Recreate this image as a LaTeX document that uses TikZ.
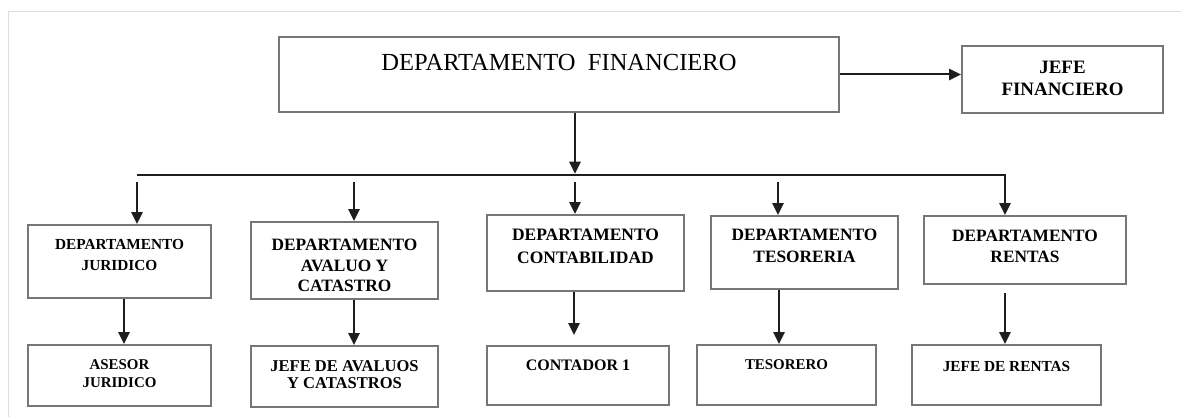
\documentclass[tikz,border=0pt]{standalone}
\usepackage{fontspec}
\setmainfont{Liberation Serif}
\usetikzlibrary{positioning,arrows.meta}

\definecolor{boxgray}{HTML}{767676}
\definecolor{linedark}{HTML}{1E1E1E}
\definecolor{framegray}{HTML}{DDDDDD}

\newcommand{\boxfont}[2]{\fontsize{#1}{#2}\selectfont}

\tikzset{
  box/.style={draw=boxgray, line width=1.5pt, inner sep=0pt},
  lbl/.style={align=center, inner sep=0pt},
  conn/.style={draw=linedark, line width=1.5pt, -{Triangle[length=9pt,width=8.5pt]}},
}

\begin{document}
\begin{tikzpicture}[x=0.75pt,y=-0.75pt]
    \useasboundingbox (0,0) rectangle (1181,417);
    % Page frame
    \draw[framegray, line width=0.75pt] (8,417) -- (8,12) -- (1181,12);

    % Top level
    \node[box, minimum width=420pt, minimum height=56.25pt] (fin) at (559,74.5) {};
    \node[lbl, font=\boxfont{18.4}{22}] (finT) at (559,63) {DEPARTAMENTO\ \ FINANCIERO};
    \node[box, minimum width=150.75pt, minimum height=50.25pt] (jfin) at (1062.5,79.5) {};
    \node[lbl, font=\boxfont{14.2}{16.5}\bfseries] (jfinT) at (1062.5,78) {JEFE\\FINANCIERO};

    % Departments
    \node[box, minimum width=137.25pt, minimum height=54.75pt] (jur) at (119.5,261.5) {};
    \node[lbl, font=\boxfont{11.5}{15.75}\bfseries] (jurT) at (119.5,254.5) {DEPARTAMENTO\\JURIDICO};
    \node[box, minimum width=140.25pt, minimum height=57.75pt] (aval) at (344.5,260.5) {};
    \node[lbl, font=\boxfont{13}{15.4}\bfseries] (avalT) at (344.5,265.5) {DEPARTAMENTO\\AVALUO Y\\CATASTRO};
    \node[box, minimum width=147.75pt, minimum height=57pt] (cont) at (585.5,253) {};
    \node[lbl, font=\boxfont{13.1}{17.25}\bfseries] (contT) at (585.5,246.5) {DEPARTAMENTO\\CONTABILIDAD};
    \node[box, minimum width=140.25pt, minimum height=54.75pt] (tes) at (804.5,252.5) {};
    \node[lbl, font=\boxfont{13}{16.5}\bfseries] (tesT) at (804.5,246) {DEPARTAMENTO\\TESORERIA};
    \node[box, minimum width=151.5pt, minimum height=51pt] (ren) at (1025,250) {};
    \node[lbl, font=\boxfont{13}{15.75}\bfseries] (renT) at (1025,246.5) {DEPARTAMENTO\\RENTAS};

    % Staff
    \node[box, minimum width=137.25pt, minimum height=45.75pt] (ase) at (119.5,375.5) {};
    \node[lbl, font=\boxfont{11.2}{13.5}\bfseries] (aseT) at (119.5,374) {ASESOR\\JURIDICO};
    \node[box, minimum width=140.25pt, minimum height=45.75pt] (jav) at (344.5,376.5) {};
    \node[lbl, font=\boxfont{12.4}{12.75}\bfseries] (javT) at (344.5,374.5) {JEFE DE AVALUOS\\Y CATASTROS};
    \node[box, minimum width=136.5pt, minimum height=44.25pt] (ctd) at (578,375.5) {};
    \node[lbl, font=\boxfont{12}{14}\bfseries] (ctdT) at (578,365) {CONTADOR 1};
    \node[box, minimum width=134.25pt, minimum height=45pt] (tso) at (786.5,375) {};
    \node[lbl, font=\boxfont{11.2}{14}\bfseries] (tsoT) at (786.5,365) {TESORERO};
    \node[box, minimum width=141.75pt, minimum height=45pt] (jre) at (1006.5,375) {};
    \node[lbl, font=\boxfont{11.5}{14}\bfseries] (jreT) at (1006.5,366) {JEFE DE RENTAS};

    % Connectors
    \draw[conn] (fin.east) -- (fin.east -| jfin.west);
    \coordinate (bus) at (575,175);
    \draw[conn, shorten >=1pt] (fin.south -| bus) -- (bus);
    \coordinate (busL) at (137,175);
    \coordinate (busR) at (1005,175);
    \draw[conn] (busL) -- (busR) -- (busR |- ren.north);
    \foreach \x/\n in {137/jur,354/aval,575/cont,778/tes} {
        \coordinate (d\n) at (\x,182);
        \draw[conn] (d\n) -- (d\n |- \n.north);
    }
    \foreach \x/\a/\b in {124/jur/ase,354/aval/jav,779/tes/tso} {
        \coordinate (v\a) at (\x,0);
        \draw[conn] (v\a |- \a.south) -- (v\a |- \b.north);
    }
    \coordinate (vcont) at (574,0);
    \draw[conn, shorten >=7.5pt] (vcont |- cont.south) -- (vcont |- ctd.north);
    \coordinate (vren) at (1005,0);
    \draw[conn, shorten <=6pt] (vren |- ren.south) -- (vren |- jre.north);
\end{tikzpicture}
\end{document}
